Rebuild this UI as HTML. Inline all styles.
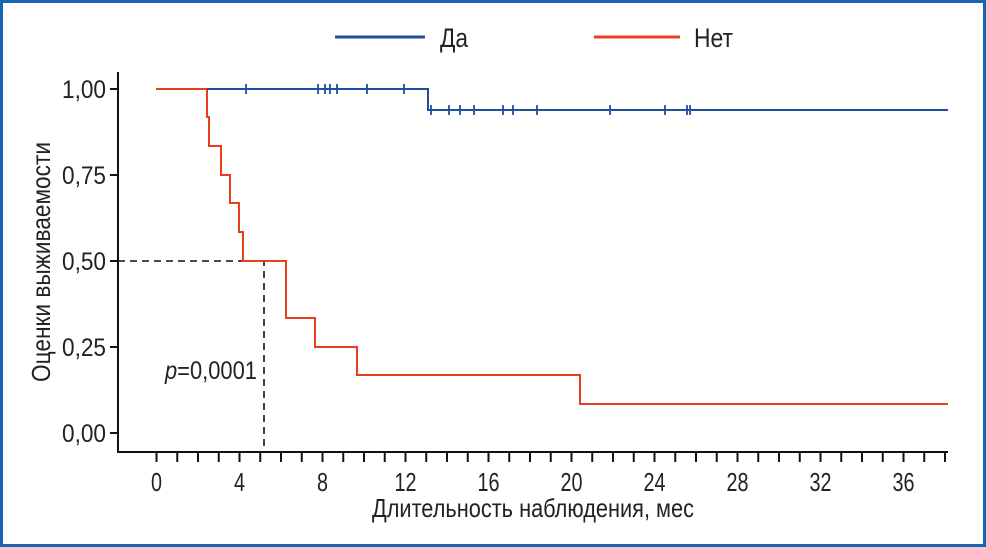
<!DOCTYPE html>
<html><head><meta charset="utf-8"><style>
html,body{margin:0;padding:0;background:#fff}
svg{display:block}
text{font-family:"Liberation Sans",sans-serif;fill:#222}
</style></head><body>
<svg width="986" height="547" viewBox="0 0 986 547" xmlns="http://www.w3.org/2000/svg">
<rect x="1.5" y="1.5" width="983" height="544" fill="#fff" stroke="#1565b0" stroke-width="3"/>
<!-- legend -->
<line x1="335" y1="37" x2="425" y2="37" stroke="#1f4e9e" stroke-width="3"/>
<text x="440" y="47" font-size="27" textLength="28" lengthAdjust="spacingAndGlyphs">Да</text>
<line x1="594" y1="37" x2="680" y2="37" stroke="#e8401c" stroke-width="3"/>
<text x="694" y="47" font-size="27" textLength="39" lengthAdjust="spacingAndGlyphs">Нет</text>
<!-- axes -->
<g stroke="#111" stroke-width="2" fill="none">
<line x1="118" y1="72" x2="118" y2="452"/>
<line x1="117" y1="452" x2="948" y2="452"/>
<line x1="110" y1="89" x2="118" y2="89"/>
<line x1="110" y1="175" x2="118" y2="175"/>
<line x1="110" y1="261" x2="118" y2="261"/>
<line x1="110" y1="347" x2="118" y2="347"/>
<line x1="110" y1="433" x2="118" y2="433"/>
</g>
<g id="xt" stroke="#111" stroke-width="2"></g>
<g font-size="25">
<text x="106" y="98" text-anchor="end" textLength="44" lengthAdjust="spacingAndGlyphs">1,00</text>
<text x="106" y="184" text-anchor="end" textLength="44" lengthAdjust="spacingAndGlyphs">0,75</text>
<text x="106" y="270" text-anchor="end" textLength="44" lengthAdjust="spacingAndGlyphs">0,50</text>
<text x="106" y="356" text-anchor="end" textLength="44" lengthAdjust="spacingAndGlyphs">0,25</text>
<text x="106" y="442" text-anchor="end" textLength="44" lengthAdjust="spacingAndGlyphs">0,00</text>
</g>
<g font-size="26" text-anchor="middle" id="xl"></g>
<text x="533" y="517" font-size="26" text-anchor="middle" textLength="322" lengthAdjust="spacingAndGlyphs">Длительность наблюдения, мес</text>
<text transform="translate(50,262) rotate(-90)" font-size="26" text-anchor="middle" textLength="240" lengthAdjust="spacingAndGlyphs">Оценки выживаемости</text>
<!-- dashed median -->
<polyline points="118,261 264,261 264,452" fill="none" stroke="#111" stroke-width="1.6" stroke-dasharray="7,5"/>
<text x="165" y="379" font-size="25" textLength="92" lengthAdjust="spacingAndGlyphs"><tspan font-style="italic">p</tspan>=0,0001</text>
<!-- red -->
<polyline fill="none" stroke="#e8401c" stroke-width="2"
points="156,89 207,89 207,117 209,117 209,146 221,146 221,175 230,175 230,203 239,203 239,232 243,232 243,261 286,261 286,318 315,318 315,347 357,347 357,375 580,375 580,404 948,404"/>
<!-- blue -->
<polyline fill="none" stroke="#1f4e9e" stroke-width="2" points="207,89 428,89 428,110 948,110"/>
<g id="cens" stroke="#1f4e9e" stroke-width="1.8"></g>
</svg>
<script>
var ns="http://www.w3.org/2000/svg";
var xt=document.getElementById("xt"),xl=document.getElementById("xl");
for(var m=0;m<=38;m++){var x=156.5+m*20.75;if(x>947)break;
var l=document.createElementNS(ns,"line");l.setAttribute("x1",x);l.setAttribute("x2",x);l.setAttribute("y1",452);l.setAttribute("y2",462);xt.appendChild(l);
if(m%4==0){var t=document.createElementNS(ns,"text");t.setAttribute("x",x);t.setAttribute("y",491);var s=String(m);t.setAttribute("textLength",s.length*11);t.setAttribute("lengthAdjust","spacingAndGlyphs");t.textContent=s;xl.appendChild(t);}}
var c=document.getElementById("cens");
function ln(a,b,d,e){var l=document.createElementNS(ns,"line");l.setAttribute("x1",a);l.setAttribute("y1",b);l.setAttribute("x2",d);l.setAttribute("y2",e);c.appendChild(l);}
[[246,89],[318,89],[325,89],[330,89],[337,89],[367,89],[404,89],[431,110],[449,110],[460,110],[474,110],[503,110],[513,110],[537,110],[610,110],[665,110],[687,110],[690,110]].forEach(function(p){
ln(p[0],p[1]-5,p[0],p[1]+5);ln(p[0]-4,p[1],p[0]+4,p[1]);});
</script>
</body></html>
